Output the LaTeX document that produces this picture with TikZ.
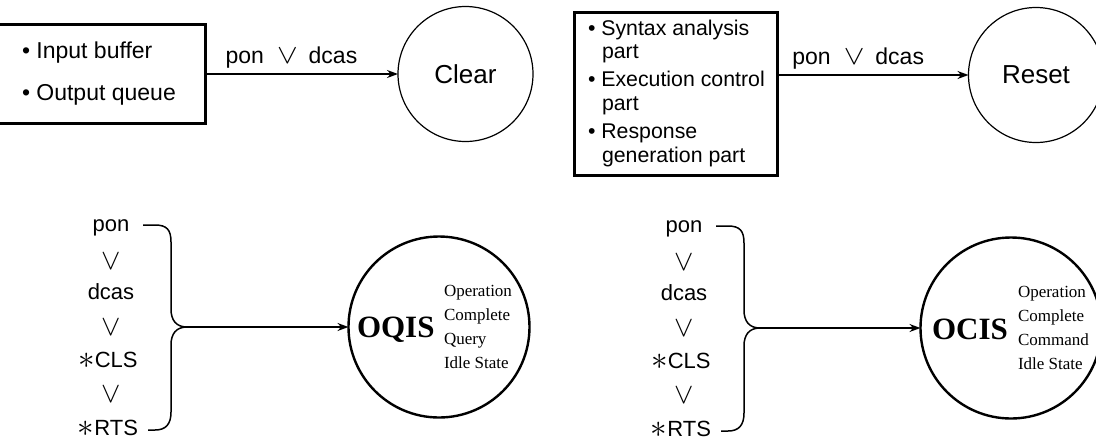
\documentclass[tikz,border=0pt]{standalone}
\usepackage{fontspec}
\usepackage{graphicx}
\setmainfont{Liberation Serif}
\newfontfamily\helv{Liberation Sans}
\usetikzlibrary{arrows.meta}
% logical-or signs and starred prefix, scaled up from 10pt math glyphs
\newcommand{\orsign}{{\fontsize{10}{12}\selectfont\scalebox{2.9}{$\vee$}}}
\newcommand{\orsignwide}{{\fontsize{10}{12}\selectfont\scalebox{3.1}[2.7]{$\vee$}}}
\newcommand{\starpre}{{\fontsize{10}{12}\selectfont\raisebox{-1pt}{\scalebox{3.3}{$\ast$}}}}
\begin{document}
\begin{tikzpicture}[x=1pt,y=-1pt,
  every node/.style={inner sep=0pt, outer sep=0pt},
  boxtext/.style={anchor=base west, font=\helv\fontsize{23}{25}\selectfont},
  parttext/.style={anchor=base west, font=\helv\fontsize{21.3}{25}\selectfont},
  coltext/.style={anchor=base, font=\helv\fontsize{22}{24}\selectfont},
  orsym/.style={},
  condlabel/.style={anchor=base, yshift=11pt, font=\helv\fontsize{23}{25}\selectfont},
  itembox/.style={draw, line width=3pt},
  statethin/.style={circle, draw, line width=1.2pt, minimum size=135pt,
    font=\helv\fontsize{26}{28}\selectfont},
  statebold/.style={circle, draw, line width=2.4pt, minimum size=181pt},
  abbrev/.style={anchor=base west, font=\bfseries\fontsize{31}{31}\selectfont},
  expansion/.style={anchor=west, align=left, font=\fontsize{17}{24.2}\selectfont},
  conn/.style={line width=1.5pt, -{Stealth[length=11pt,width=8pt]}},
  bracestyle/.style={line width=1.5pt},
]
\useasboundingbox (0,0) rectangle (1096,440);

% ---------- top left: buffers cleared ----------
\node[itembox, anchor=north east, minimum width=215pt, minimum height=99pt] (buf) at (205,24) {};
\node[boxtext] at (22,58) {\textbullet\ Input buffer};
\node[boxtext] at (22,100) {\textbullet\ Output queue};
\node[statethin] (clear) at (465.5,74) {Clear};
\draw[conn] (buf.east |- clear.west) -- node[condlabel, pos=0.448]
  {pon\hspace{13pt}\orsignwide\hspace{11pt}dcas} (clear.west);

% ---------- top right: parts reset ----------
\node[itembox, anchor=north west, minimum width=203pt, minimum height=163pt] (parts) at (574,12) {};
\node[parttext] at (588,35) {\textbullet\ Syntax analysis};
\node[parttext] at (602,58.5) {part};
\node[parttext] at (588,86.5) {\textbullet\ Execution control};
\node[parttext] at (602,110) {part};
\node[parttext] at (588,138) {\textbullet\ Response};
\node[parttext] at (602,162) {generation part};
\node[statethin] (reset) at (1036,75) {Reset};
\draw[conn] (parts.east |- reset.west) -- node[condlabel, pos=0.424]
  {pon\hspace{13pt}\orsignwide\hspace{11pt}dcas} (reset.west);

% ---------- bottom left: OQIS ----------
\node[coltext] (pA) at (111,231) {pon};
\node[orsym] (oA1) at (111,261) {\orsign};
\node[coltext] (dA) at (111,299) {dcas};
\node[orsym] (oA2) at (111,327) {\orsign};
\node[coltext] (cA) at (108,367) {\starpre CLS};
\node[orsym] (oA3) at (111,394) {\orsign};
\node[coltext] (rA) at (108,435) {\starpre RTS};
\coordinate (tipA) at (187,327);
\draw[bracestyle] (143,225) -- (155,225) .. controls (167,225) and (171,230) .. (171,242)
  -- (171,309) .. controls (171,320) and (176,327) .. (tipA)
  .. controls (176,327) and (171,334) .. (171,345)
  -- (171,412) .. controls (171,424) and (166,430) .. (155,430) -- (148,430);
\node[statebold] (oqis) at (439,327) {};
\node[abbrev] at (357,337) {OQIS};
\node[expansion] at (444,327) {Operation\\Complete\\Query\\Idle State};
\draw[conn] (tipA) -- (oqis.west);

% ---------- bottom right: OCIS ----------
\node[coltext] (pB) at (684,232) {pon};
\node[orsym] (oB1) at (684,262) {\orsign};
\node[coltext] (dB) at (684,300) {dcas};
\node[orsym] (oB2) at (684,328) {\orsign};
\node[coltext] (cB) at (681,368) {\starpre CLS};
\node[orsym] (oB3) at (684,395) {\orsign};
\node[coltext] (rB) at (681,436) {\starpre RTS};
\coordinate (tipB) at (760,328);
\draw[bracestyle] (716,226) -- (728,226) .. controls (740,226) and (744,231) .. (744,243)
  -- (744,310) .. controls (744,321) and (749,328) .. (tipB)
  .. controls (749,328) and (744,335) .. (744,346)
  -- (744,413) .. controls (744,425) and (739,431) .. (728,431) -- (721,431);
\node[statebold] (ocis) at (1011,328) {};
\node[abbrev] at (932,339) {OCIS};
\node[expansion] at (1018,328) {Operation\\Complete\\Command\\Idle State};
\draw[conn] (tipB) -- (ocis.west);
\end{tikzpicture}
\end{document}
